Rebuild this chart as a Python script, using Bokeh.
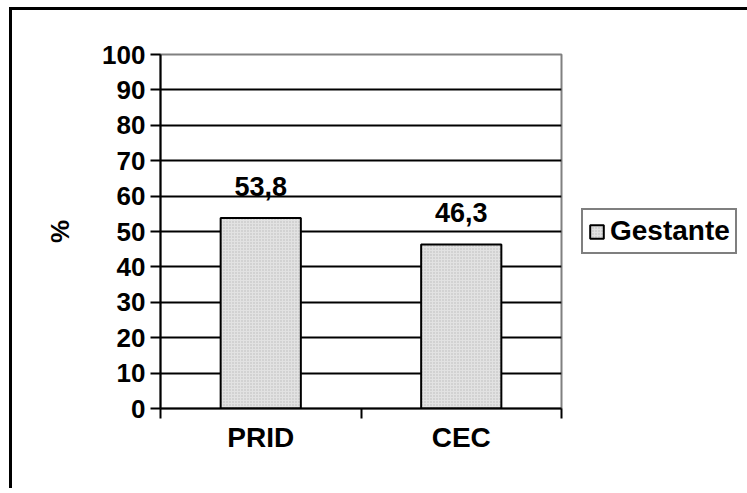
from bokeh.plotting import figure
from bokeh.models import (ColumnDataSource, Range1d, LinearAxis,
                          FixedTicker, Legend, LegendItem)
from bokeh.embed import file_html
from bokeh.resources import INLINE
from bokeh.core.properties import value

categories = ["PRID", "CEC"]
gestante = [53.8, 46.3]
series_name = "Gestante"
y_ticks = [0, 10, 20, 30, 40, 50, 60, 70, 80, 90, 100]
y_label = "%"

FONT = "Liberation Sans"
BAR_FILL = "#e2e2e2"

n = len(categories)
centers = [i + 0.5 for i in range(n)]
src = ColumnDataSource(dict(
    x=centers,
    val=gestante,
    lab=[f"{v:.1f}".replace(".", ",") for v in gestante],
))

p = figure(frame_width=401, frame_height=354,
           x_range=Range1d(0, n),
           y_range=Range1d(y_ticks[0], y_ticks[-1]),
           x_axis_location=None,
           output_backend="svg", toolbar_location=None,
           min_border_left=148, min_border_right=180,
           min_border_top=44, min_border_bottom=80)
p.styles = {"margin-left": "9px", "margin-top": "7px",
            "border-left": "3px solid black", "border-top": "3px solid black"}
p.background_fill_color = "white"
p.border_fill_color = "white"
p.outline_line_color = "#808080"
p.outline_line_width = 2

# y axis
ya = p.yaxis[0]
ya.ticker = FixedTicker(ticks=y_ticks)
ya.axis_line_width = 2
ya.axis_line_color = "black"
ya.major_tick_in = 0
ya.major_tick_out = 10
ya.major_tick_line_width = 2
ya.minor_tick_line_color = None
ya.major_label_text_font = FONT
ya.major_label_text_font_style = "bold"
ya.major_label_text_font_size = "26px"
ya.major_label_text_color = "black"
ya.major_label_standoff = 5
ya.axis_label = y_label
ya.axis_label_text_font = FONT
ya.axis_label_text_font_style = "bold"
ya.axis_label_text_font_size = "26px"
ya.axis_label_text_color = "black"
ya.axis_label_standoff = 24

# grid
p.xgrid.visible = False
p.ygrid.ticker = FixedTicker(ticks=y_ticks[1:-1])
p.ygrid.grid_line_color = "black"
p.ygrid.grid_line_width = 2

# x axes: boundary ticks + category labels
tick_axis = LinearAxis(ticker=FixedTicker(ticks=list(range(n + 1))),
                       major_label_overrides={i: "" for i in range(n + 1)},
                       major_tick_in=0, major_tick_out=10,
                       major_tick_line_width=2, axis_line_width=2,
                       minor_tick_line_color=None,
                       major_label_text_font_size="1px",
                       major_label_standoff=0)
cat_axis = LinearAxis(ticker=FixedTicker(ticks=centers),
                      major_label_overrides={c: lab for c, lab in zip(centers, categories)},
                      axis_line_color=None, major_tick_line_color=None,
                      minor_tick_line_color=None,
                      major_label_text_font=FONT,
                      major_label_text_font_style="bold",
                      major_label_text_font_size="28px",
                      major_label_text_color="black",
                      major_label_standoff=-3)
p.add_layout(tick_axis, "below")
p.add_layout(cat_axis, "below")

bars = p.vbar(x="x", top="val", width=0.4, source=src,
              fill_color=BAR_FILL, hatch_pattern="dot", hatch_color="#b8b8b8",
              hatch_scale=3, hatch_weight=1,
              line_color="black", line_width=2)

p.text(x="x", y="val", text="lab", source=src,
       text_align="center", text_baseline="alphabetic", y_offset=-32,
       text_font=value(FONT), text_font_style="bold", text_font_size="27px",
       text_color="black")

legend = Legend(items=[LegendItem(label=series_name, renderers=[bars])],
                location="center_left",
                border_line_color="black", border_line_width=2,
                label_text_font=FONT, label_text_font_style="bold",
                label_text_font_size="28px", label_text_color="black",
                glyph_width=17, glyph_height=17,
                padding=5, margin=20, label_standoff=5,
                background_fill_color="white", background_fill_alpha=1)
p.add_layout(legend, "right")

open("out.html", "w").write(file_html(p, INLINE))
